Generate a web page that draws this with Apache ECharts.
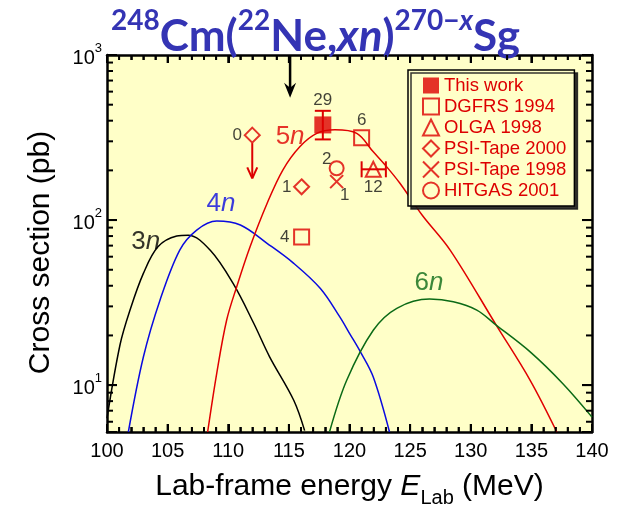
<!DOCTYPE html>
<html>
<head>
<meta charset="utf-8">
<script src="https://cdn.jsdelivr.net/npm/echarts@6/dist/echarts.min.js"></script>
<style>
html, body { margin: 0; padding: 0; background: #fff; }
#chart { width: 623px; height: 505px; }
</style>
</head>
<body>
<div id="chart"></div>
<script>
// calculated excitation functions: lab energy (MeV) / cross section (pb)
const curve3nE = [100.0, 101.07, 101.9, 103.0, 104.2, 105.75, 106.7, 108.5, 110.4, 112.1, 113.4, 115.4, 116.3];
const curve3nS = [6.3, 17.5, 28.5, 47.5, 68.9, 80, 81, 65.8, 41.3, 23.7, 14.9, 8.1, 5.3];
const curve4nE = [101.76, 103.0, 104.37, 106.0, 107.4, 109.05, 111.0, 113.2, 115.4, 117.6, 119.2, 120.0, 120.9, 121.96, 123.3];
const curve4nS = [5.2, 14.8, 32.7, 65.8, 87, 98.6, 93.3, 72.3, 54.7, 38.5, 25.9, 20.6, 15.9, 11.2, 5.2];
const curve5nE = [108.3, 109.05, 109.87, 110.7, 111.8, 113.2, 114.5, 115.9, 117.3, 118.8, 120.6, 121.96, 123.07, 124.16, 126.0, 128.3, 132.1, 134.9, 137.1];
const curve5nS = [5.2, 11.8, 24.8, 39.5, 68.9, 126, 201, 278, 335, 352, 335, 259, 210, 167, 107, 65.8, 23.1, 10.7, 5.2];
const curve6nE = [118.35, 119.77, 121.96, 123.9, 126.6, 128.56, 130.5, 132.1, 134.9, 137.6, 140.0];
const curve6nS = [5.2, 10.7, 21.5, 29.2, 33.2, 32, 28.5, 23.1, 15.9, 10.2, 6.4];

// curve labels
const curveLabelE = [103.2, 109.4, 115.1, 126.56];
const curveLabelS = [73.6, 125, 318, 41.5];
const curveLabelText = ['3', '4', '5', '6'];

// measurements (number = events)
const thisWorkE = [117.8];
const thisWorkS = [377];
const thisWorkLo = [308];
const thisWorkHi = [459];
const thisWorkN = ['29'];
const dgfrsE = [121.0, 116.05];
const dgfrsS = [315, 79];
const dgfrsN = ['6', '4'];
const olgaE = [121.96];
const olgaS = [203];
const olgaELo = [121.0];
const olgaEHi = [123.0];
const olgaN = ['12'];
const psi2000E = [111.98, 116.05];
const psi2000S = [327, 159];
const psi2000N = ['0', '1'];
const psi2000Limit = [179];
const psi1998E = [118.94];
const psi1998S = [171];
const psi1998N = ['1'];
const hitgasE = [118.94];
const hitgasS = [206];
const hitgasN = ['2'];

// energy marked by the arrow at the top
const markE = [115.1];
const markFrom = [1000];
const markTo = [550];

// tick positions
const xMajorTicks = [105, 110, 115, 120, 125, 130, 135];
const xMinorTicks = [101, 102, 103, 104, 106, 107, 108, 109, 111, 112, 113, 114, 116, 117, 118, 119,
  121, 122, 123, 124, 126, 127, 128, 129, 131, 132, 133, 134, 136, 137, 138, 139];
const yMajorTicks = [10, 100];
const yMinorTicks = [6, 7, 8, 9, 20, 30, 40, 50, 60, 70, 80, 90, 200, 300, 400, 500, 600, 700, 800, 900];

const X_MIN = 100, X_MAX = 140, Y_MIN = 5.2, Y_MAX = 1000;
const RED = '#dd0000';
const FONT = '"Liberation Sans", Arial, sans-serif';
const CURVE_COLORS = ['#000000', '#0a0ae0', '#e00000', '#0b6a16'];

const chart = echarts.init(document.getElementById('chart'), null, { renderer: 'canvas' });

function zip(a, b) { return a.map((v, i) => [v, b[i]]); }

function lineSeries(name, e, s, color) {
  return {
    name, type: 'line', data: zip(e, s), smooth: 0.35, showSymbol: false, clip: true,
    lineStyle: { color, width: 1.5 }, itemStyle: { color }, z: 2, silent: true,
  };
}

// label offsets for the event counts, per series
const countOffsets = {
  'This work': [[0, -25]],
  'DGFRS 1994': [[0, -17], [-17, 0]],
  'OLGA 1998': [[0, 18]],
  'PSI-Tape 2000': [[-15, 0], [-15, 0]],
  'PSI-Tape 1998': [[8, 14]],
  'HITGAS 2001': [[-10, -9]],
};

function pointSeries(name, e, s, n, symbol, size, filled) {
  return {
    name, type: 'scatter', symbol, symbolSize: size, z: 5,
    itemStyle: {
      color: filled ? RED : 'rgba(0,0,0,0)', borderColor: RED, borderWidth: filled ? 0 : 2,
    },
    data: e.map((v, i) => ({
      value: [v, s[i]],
      label: {
        show: true, position: 'inside', formatter: n[i], offset: countOffsets[name][i],
        color: '#111', fontSize: 17, fontFamily: FONT,
      },
    })),
  };
}

function seg(x1, y1, x2, y2, color, w) {
  return { type: 'line', shape: { x1, y1, x2, y2 }, style: { stroke: color, lineWidth: w } };
}
function bar(x, y, width, height) {
  return { type: 'rect', shape: { x, y, width, height }, style: { fill: '#000' } };
}

const xAxisBase = {
  type: 'value', min: X_MIN, max: X_MAX, interval: 5,
  axisLine: { show: true, onZero: false, lineStyle: { color: '#000', width: 2.5 } },
  axisTick: { show: true, inside: true, length: 8, lineStyle: { color: '#000', width: 2 } },
  minorTick: { show: true, splitNumber: 5, length: 5, lineStyle: { color: '#000', width: 1.5 } },
  splitLine: { show: false },
};
const yAxisBase = {
  type: 'log', logBase: 10, min: Y_MIN, max: Y_MAX,
  axisLine: { show: true, onZero: false, lineStyle: { color: '#000', width: 2.5 } },
  axisTick: { show: true, inside: true, length: 10, lineStyle: { color: '#000', width: 2 } },
  splitLine: { show: false },
};

// [x, y, tick length, 0 = x tick / 1 = y tick]
const tickData = [].concat(
  xMajorTicks.map(v => [v, Y_MAX, 8, 0]),
  xMinorTicks.map(v => [v, Y_MAX, 5, 0]),
  yMajorTicks.map(v => [X_MAX, v, 10, 1]),
  yMinorTicks.map(v => [X_MAX, v, 6, 1]),
);

chart.setOption({
  animation: false,
  title: {
    text: '{sup|248}{m|Cm(}{sup|22}{m|Ne,}{mi|xn}{m|)}{sup|270\u2212}{supi|x}{m|Sg}',
    left: 106, top: 2,
    textStyle: {
      rich: {
        m: { fontSize: 44, fontWeight: 'bold', fontFamily: 'Lato', color: '#3434b4', lineHeight: 52, verticalAlign: 'bottom' },
        mi: { fontSize: 44, fontWeight: 'bold', fontStyle: 'italic', fontFamily: 'Lato', color: '#3434b4', lineHeight: 52, verticalAlign: 'bottom' },
        sup: { fontSize: 28, fontWeight: 'bold', fontFamily: 'Lato', color: '#3434b4', lineHeight: 38, verticalAlign: 'top' },
        supi: { fontSize: 28, fontWeight: 'bold', fontStyle: 'italic', fontFamily: 'Lato', color: '#3434b4', lineHeight: 38, verticalAlign: 'top' },
      },
    },
  },
  grid: {
    left: 107, right: 31, top: 55, bottom: 73, outerBoundsMode: 'none',
    show: true, backgroundColor: '#ffffc8', borderWidth: 0,
  },
  legend: {
    orient: 'vertical', left: 408, top: 70,
    padding: [6, 8, 6, 14], itemGap: 2, itemWidth: 16, itemHeight: 16, itemTextGap: 13,
    backgroundColor: '#ffffc8', borderColor: '#000', borderWidth: 1.5,
    shadowColor: 'rgba(30,30,30,0.9)', shadowBlur: 0, shadowOffsetX: 3, shadowOffsetY: 3,
    textStyle: { color: RED, fontSize: 18.5, fontFamily: FONT },
    data: ['This work', 'DGFRS 1994', 'OLGA 1998', 'PSI-Tape 2000', 'PSI-Tape 1998', 'HITGAS 2001'],
  },
  xAxis: [
    Object.assign({}, xAxisBase, {
      position: 'bottom',
      name: '{a|Lab-frame energy }{i|E}{s|Lab}{a| (MeV)}',
      nameLocation: 'middle', nameGap: 40,
      nameTextStyle: {
        rich: {
          a: { fontSize: 30, fontFamily: FONT, color: '#000', lineHeight: 36, verticalAlign: 'top' },
          i: { fontSize: 30, fontFamily: FONT, fontStyle: 'italic', color: '#000', lineHeight: 36, verticalAlign: 'top' },
          s: { fontSize: 20, fontFamily: FONT, color: '#000', lineHeight: 22, verticalAlign: 'bottom' },
        },
      },
      axisLabel: { color: '#000', fontSize: 20, fontFamily: FONT, margin: 9 },
    }),
    Object.assign({}, xAxisBase, { position: 'top', axisLabel: { show: false } }),
  ],
  yAxis: [
    Object.assign({}, yAxisBase, {
      position: 'left',
      name: 'Cross section (pb)', nameLocation: 'middle', nameGap: 51,
      nameTextStyle: { fontSize: 30, fontFamily: FONT, color: '#000', padding: [0, 18, 0, 0] },
      axisLabel: {
        margin: 5,
        formatter: v => {
          const e = Math.log10(v);
          if (Math.abs(e - Math.round(e)) > 1e-6) return '';
          return '{b|10}{s|' + Math.round(e) + '}';
        },
        rich: {
          b: { fontSize: 20, fontFamily: FONT, color: '#000', lineHeight: 26, verticalAlign: 'bottom' },
          s: { fontSize: 13, fontFamily: FONT, color: '#000', lineHeight: 14, verticalAlign: 'top' },
        },
      },
    }),
    Object.assign({}, yAxisBase, { position: 'right', axisLabel: { show: false } }),
  ],
  series: [
    lineSeries('3n', curve3nE, curve3nS, CURVE_COLORS[0]),
    lineSeries('4n', curve4nE, curve4nS, CURVE_COLORS[1]),
    lineSeries('5n', curve5nE, curve5nS, CURVE_COLORS[2]),
    lineSeries('6n', curve6nE, curve6nS, CURVE_COLORS[3]),
    {
      // inward ticks on all four sides, drawn as thin filled bars
      type: 'custom', silent: true, z: 10, clip: false,
      data: tickData,
      encode: { x: 0, y: 1 },
      renderItem: (params, api) => {
        const cs = params.coordSys;
        const len = api.value(2);
        if (api.value(3) === 0) {
          const x = api.coord([api.value(0), Y_MAX])[0];
          return { type: 'group', children: [
            bar(x - 1, cs.y + cs.height - len, 2, len),
            bar(x - 1, cs.y, 2, len),
          ] };
        }
        const y = api.coord([X_MAX, api.value(1)])[1];
        return { type: 'group', children: [
          bar(cs.x, y - 1, len, 2),
          bar(cs.x + cs.width - len, y - 1, len, 2),
        ] };
      },
    },
    {
      // vertical error bar of this work
      type: 'custom', silent: true, z: 4,
      data: thisWorkE.map((v, i) => [v, thisWorkLo[i], thisWorkHi[i]]),
      encode: { x: 0, y: [1, 2] },
      renderItem: (params, api) => {
        const lo = api.coord([api.value(0), api.value(1)]);
        const hi = api.coord([api.value(0), api.value(2)]);
        return { type: 'group', children: [
          seg(lo[0], lo[1], hi[0], hi[1], RED, 2),
          seg(lo[0] - 8, lo[1], lo[0] + 8, lo[1], RED, 2),
          seg(hi[0] - 8, hi[1], hi[0] + 8, hi[1], RED, 2),
        ] };
      },
    },
    {
      // horizontal (energy) error bar of OLGA
      type: 'custom', silent: true, z: 4,
      data: olgaS.map((v, i) => [olgaELo[i], v, olgaEHi[i]]),
      encode: { x: [0, 2], y: 1 },
      renderItem: (params, api) => {
        const a = api.coord([api.value(0), api.value(1)]);
        const b = api.coord([api.value(2), api.value(1)]);
        return { type: 'group', children: [
          seg(a[0], a[1], b[0], b[1], RED, 2),
          seg(a[0], a[1] - 8, a[0], a[1] + 8, RED, 2),
          seg(b[0], b[1] - 8, b[0], b[1] + 8, RED, 2),
        ] };
      },
    },
    {
      // upper-limit arrow of PSI-Tape 2000
      type: 'custom', silent: true, z: 4,
      data: [[psi2000E[0], psi2000S[0], psi2000Limit[0]]],
      encode: { x: 0, y: [1, 2] },
      renderItem: (params, api) => {
        const a = api.coord([api.value(0), api.value(1)]);
        const b = api.coord([api.value(0), api.value(2)]);
        return { type: 'group', children: [
          seg(a[0], a[1] + 8, b[0], b[1], RED, 2),
          seg(b[0] - 5, b[1] - 11, b[0], b[1], RED, 2),
          seg(b[0] + 5, b[1] - 11, b[0], b[1], RED, 2),
        ] };
      },
    },
    {
      // black arrow from the top
      type: 'custom', silent: true, z: 4, clip: false,
      data: markE.map((v, i) => [v, markFrom[i], markTo[i]]),
      encode: { x: 0, y: [1, 2] },
      renderItem: (params, api) => {
        const a = api.coord([api.value(0), api.value(1)]);
        const b = api.coord([api.value(0), api.value(2)]);
        return { type: 'group', children: [
          seg(a[0], a[1], b[0], b[1] - 8, '#000', 2.5),
          { type: 'polygon', shape: { points: [[b[0], b[1]], [b[0] - 6, b[1] - 15], [b[0], b[1] - 10], [b[0] + 6, b[1] - 15]] }, style: { fill: '#000' } },
        ] };
      },
    },
    {
      // curve names
      type: 'scatter', symbolSize: 0, silent: true, z: 3,
      data: curveLabelE.map((v, i) => ({
        value: [v, curveLabelS[i]],
        label: {
          show: true, position: 'inside',
          formatter: '{d|' + curveLabelText[i] + '}{n|n}',
          rich: {
            d: { fontSize: 26, fontFamily: FONT, color: CURVE_COLORS[i] },
            n: { fontSize: 26, fontFamily: FONT, fontStyle: 'italic', color: CURVE_COLORS[i] },
          },
        },
      })),
    },
    pointSeries('This work', thisWorkE, thisWorkS, thisWorkN, 'rect', 17, true),
    pointSeries('DGFRS 1994', dgfrsE, dgfrsS, dgfrsN, 'rect', 15, false),
    pointSeries('OLGA 1998', olgaE, olgaS, olgaN, 'triangle', 15, false),
    pointSeries('PSI-Tape 2000', psi2000E, psi2000S, psi2000N, 'diamond', 15, false),
    pointSeries('PSI-Tape 1998', psi1998E, psi1998S, psi1998N, 'path://M0,0L10,10M10,0L0,10', 13, false),
    pointSeries('HITGAS 2001', hitgasE, hitgasS, hitgasN, 'circle', 14, false),
  ],
});
</script>
</body>
</html>
